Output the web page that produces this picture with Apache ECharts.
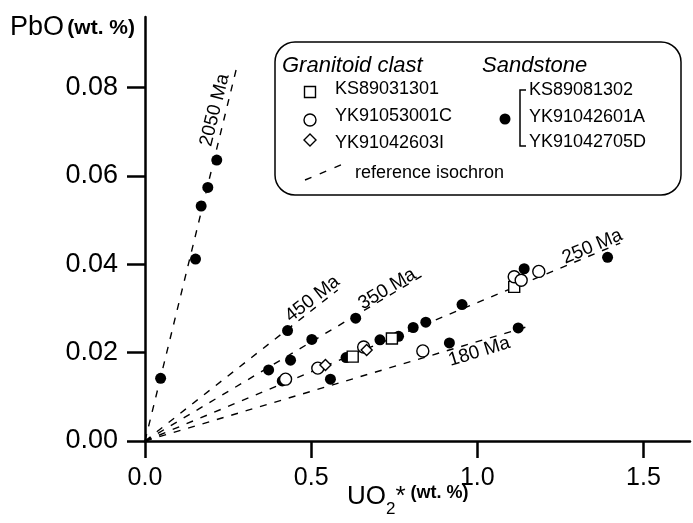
<!DOCTYPE html>
<html>
<head>
<meta charset="utf-8">
<script src="https://cdn.jsdelivr.net/npm/echarts@6/dist/echarts.min.js"></script>
<style>
html,body{margin:0;padding:0;background:#fff}
.demo{width:693px;height:523px}
</style>
</head>
<body>
<div class="demo"></div>
<script>
const xTicks = [0, 0.5, 1.0, 1.5]
const yTicks = [0, 0.02, 0.04, 0.06, 0.08]

// granitoid clast
const ks89031301 = [[0.625, 0.0191], [0.743, 0.0232], [1.111, 0.0349]]
const yk91053001c = [[0.423, 0.0140], [0.520, 0.0165], [0.658, 0.0213], [0.836, 0.0204], [1.111, 0.0372], [1.132, 0.0364], [1.185, 0.0384]]
const yk91042603i = [[0.543, 0.0172], [0.667, 0.0206]]

// sandstone (KS89081302, YK91042601A, YK91042705D)
const sandstone = [
  [0.047, 0.0142], [0.152, 0.0412], [0.169, 0.0532], [0.189, 0.0574], [0.216, 0.0636],
  [0.372, 0.0161], [0.413, 0.0136], [0.429, 0.0250], [0.438, 0.0183], [0.502, 0.0230],
  [0.558, 0.0140], [0.605, 0.0189], [0.634, 0.0278], [0.707, 0.0229], [0.763, 0.0237],
  [0.807, 0.0257], [0.845, 0.0269], [0.916, 0.0222], [0.954, 0.0309], [1.123, 0.0256],
  [1.141, 0.0390], [1.392, 0.0416]
]

// reference isochrons (start, end)
const iso2050 = [[0, 0], [0.274, 0.0840]]
const iso450 = [[0, 0], [0.580, 0.0342]]
const iso350 = [[0, 0], [0.845, 0.0379]]
const iso250 = [[0, 0], [1.430, 0.0448]]
const iso180 = [[0, 0], [1.160, 0.0261]]

const isoNames = ['2050 Ma', '450 Ma', '350 Ma', '250 Ma', '180 Ma']
const isoLabelPos = [[0.210, 0.0749], [0.504, 0.0322], [0.729, 0.0344], [1.346, 0.0440], [1.006, 0.0202]]
const isoLabelAngle = [76, 38, 31, 23, 17]

;(function(){
  const chartinstance = echarts.init(document.querySelector('.demo'))
  const font = "'Liberation Sans', Arial, Helvetica, sans-serif"

  const isoLine = (data) => ({
    type: 'line',
    data: data,
    symbol: 'none',
    silent: true,
    z: 2,
    lineStyle: { color: '#000', width: 1.4, type: [7, 8] }
  })

  const open = { color: '#fff', borderColor: '#000', borderWidth: 1.4, opacity: 1 }
  const txt = (x, y, s, f) => ({
    type: 'text', x: x, y: y, z: 12, silent: true,
    style: { text: s, font: f, fill: '#000', verticalAlign: 'middle' }
  })
  const shp = (type, shape, style) => ({ type: type, z: 12, silent: true, shape: shape, style: style })
  const openStyle = { fill: '#fff', stroke: '#000', lineWidth: 1.4 }

  const option = {
    animation: false,
    textStyle: { fontFamily: font, color: '#000' },
    grid: { left: 145, top: 17, right: 3, bottom: 82 },
    xAxis: {
      type: 'value',
      min: 0,
      max: 1.64,
      splitLine: { show: false },
      axisLine: { lineStyle: { color: '#000', width: 2.5 } },
      axisTick: { length: 17, lineStyle: { color: '#000', width: 2.5 }, customValues: xTicks },
      axisLabel: {
        customValues: xTicks,
        margin: 25,
        fontSize: 25,
        color: '#000',
        formatter: v => v.toFixed(1)
      }
    },
    yAxis: {
      type: 'value',
      min: 0,
      max: 0.096,
      splitLine: { show: false },
      axisLine: { lineStyle: { color: '#000', width: 2.5 } },
      axisTick: { length: 18, lineStyle: { color: '#000', width: 2.5 }, customValues: yTicks },
      axisLabel: {
        customValues: yTicks,
        margin: 27,
        fontSize: 27,
        color: '#000',
        formatter: v => v.toFixed(2)
      }
    },
    series: [
      isoLine(iso2050), isoLine(iso450), isoLine(iso350), isoLine(iso250), isoLine(iso180),
      {
        type: 'scatter',
        silent: true,
        symbol: 'circle',
        symbolSize: 1,
        itemStyle: { color: '#fff', opacity: 0 },
        z: 3,
        label: {
          show: true,
          position: 'inside',
          fontSize: 19,
          color: '#000',
          opacity: 1,
          textBorderWidth: 0,
          formatter: '{b}'
        },
        data: isoNames.map((n, i) => ({ name: n, value: isoLabelPos[i], label: { rotate: isoLabelAngle[i] } }))
      },
      {
        name: 'Sandstone',
        type: 'scatter',
        silent: true,
        symbol: 'circle',
        symbolSize: 11,
        itemStyle: { color: '#000', opacity: 1 },
        z: 4,
        data: sandstone
      },
      {
        name: 'KS89031301',
        type: 'scatter',
        silent: true,
        symbol: 'rect',
        symbolSize: 11,
        itemStyle: open,
        z: 5,
        data: ks89031301
      },
      {
        name: 'YK91053001C',
        type: 'scatter',
        silent: true,
        symbol: 'circle',
        symbolSize: 12,
        itemStyle: open,
        z: 5,
        data: yk91053001c
      },
      {
        name: 'YK91042603I',
        type: 'scatter',
        silent: true,
        symbol: 'diamond',
        symbolSize: 11,
        itemStyle: open,
        z: 5,
        data: yk91042603i
      }
    ],
    graphic: [
      // axis titles
      {
        type: 'text', x: 10, y: 28, silent: true,
        style: {
          text: '{a|PbO} {b|(wt. %)}',
          verticalAlign: 'middle',
          rich: {
            a: { fontSize: 27, fontFamily: font, fill: '#000', lineHeight: 32 },
            b: { fontSize: 21, fontWeight: 'bold', fontFamily: font, fill: '#000', lineHeight: 32 }
          }
        }
      },
      {
        type: 'text', x: 347, y: 501, silent: true,
        style: {
          text: '{a|UO}{s|2}{a|*}{b| (wt. %)}',
          verticalAlign: 'middle',
          rich: {
            a: { fontSize: 26, fontFamily: font, fill: '#000', lineHeight: 34, verticalAlign: 'top' },
            s: { fontSize: 17, fontFamily: font, fill: '#000', lineHeight: 17, verticalAlign: 'bottom' },
            b: { fontSize: 18, fontWeight: 'bold', fontFamily: font, fill: '#000', lineHeight: 34, verticalAlign: 'top' }
          }
        }
      },
      // legend box
      {
        type: 'rect', silent: true, z: 10,
        shape: { x: 275, y: 42, width: 406, height: 153, r: 20 },
        style: { fill: '#fff', stroke: '#000', lineWidth: 1.5 }
      },
      txt(282, 66, 'Granitoid clast', 'italic 22px ' + font),
      txt(482, 66, 'Sandstone', 'italic 22px ' + font),
      shp('rect', { x: 304.5, y: 86.5, width: 11, height: 11 }, openStyle),
      shp('circle', { cx: 310, cy: 120, r: 6 }, openStyle),
      shp('polygon', { points: [[310, 134], [316, 140], [310, 146], [304, 140]] }, openStyle),
      txt(335, 89, 'KS89031301', '18px ' + font),
      txt(335, 116, 'YK91053001C', '18px ' + font),
      txt(335, 143, 'YK91042603I', '18px ' + font),
      shp('line', { x1: 305, y1: 180, x2: 343, y2: 164 }, { stroke: '#000', lineWidth: 1.4, lineDash: [7, 9] }),
      txt(355, 173, 'reference isochron', '18px ' + font),
      shp('circle', { cx: 505, cy: 119, r: 5.5 }, { fill: '#000' }),
      shp('polyline', { points: [[526, 90], [520, 90], [520, 146], [526, 146]] }, { stroke: '#000', lineWidth: 1.5, fill: null }),
      txt(529, 90, 'KS89081302', '18px ' + font),
      txt(529, 117, 'YK91042601A', '18px ' + font),
      txt(529, 142, 'YK91042705D', '18px ' + font)
    ]
  }
  option && chartinstance.setOption(option)
  window.addEventListener('resize',()=>{
    chartinstance.resize();
  })
})();
</script>
</body>
</html>
